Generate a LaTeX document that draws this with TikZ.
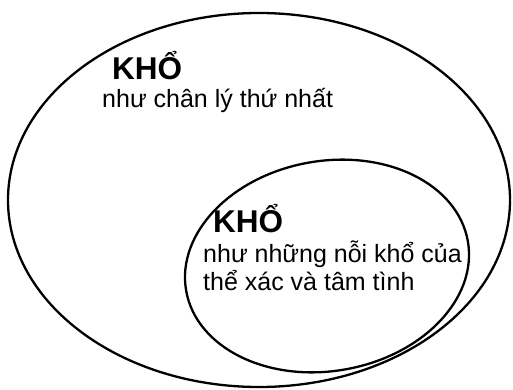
\documentclass[tikz,border=0pt]{standalone}
\usepackage{fontspec}
\setmainfont{Liberation Sans}
\begin{document}
\begin{tikzpicture}[x=1pt,y=-1pt,
  ring/.style={draw=black,line width=2.3pt},
  title/.style={font=\fontsize{31.5}{34}\selectfont\bfseries,inner sep=0pt,anchor=base west},
  body/.style={font=\fontsize{25}{29}\selectfont,inner sep=0pt,anchor=base west}]
\useasboundingbox (0,0) rectangle (513,390);
\draw[ring] (259,200) ellipse [x radius=251, y radius=187];
\draw[ring,rotate around={10:(327,266)}] (327,266) ellipse [x radius=143, y radius=105];
\node[title] (k1) at (112,80) {KHỔ};
\node[body] (t1) at (102,108) {như chân lý thứ nhất};
\node[title] (k2) at (213,232) {KHỔ};
\node[body] (t2a) at (203,262) {như những nỗi khổ của};
\node[body] (t2b) at (203,290) {thể xác và tâm tình};
\end{tikzpicture}
\end{document}
